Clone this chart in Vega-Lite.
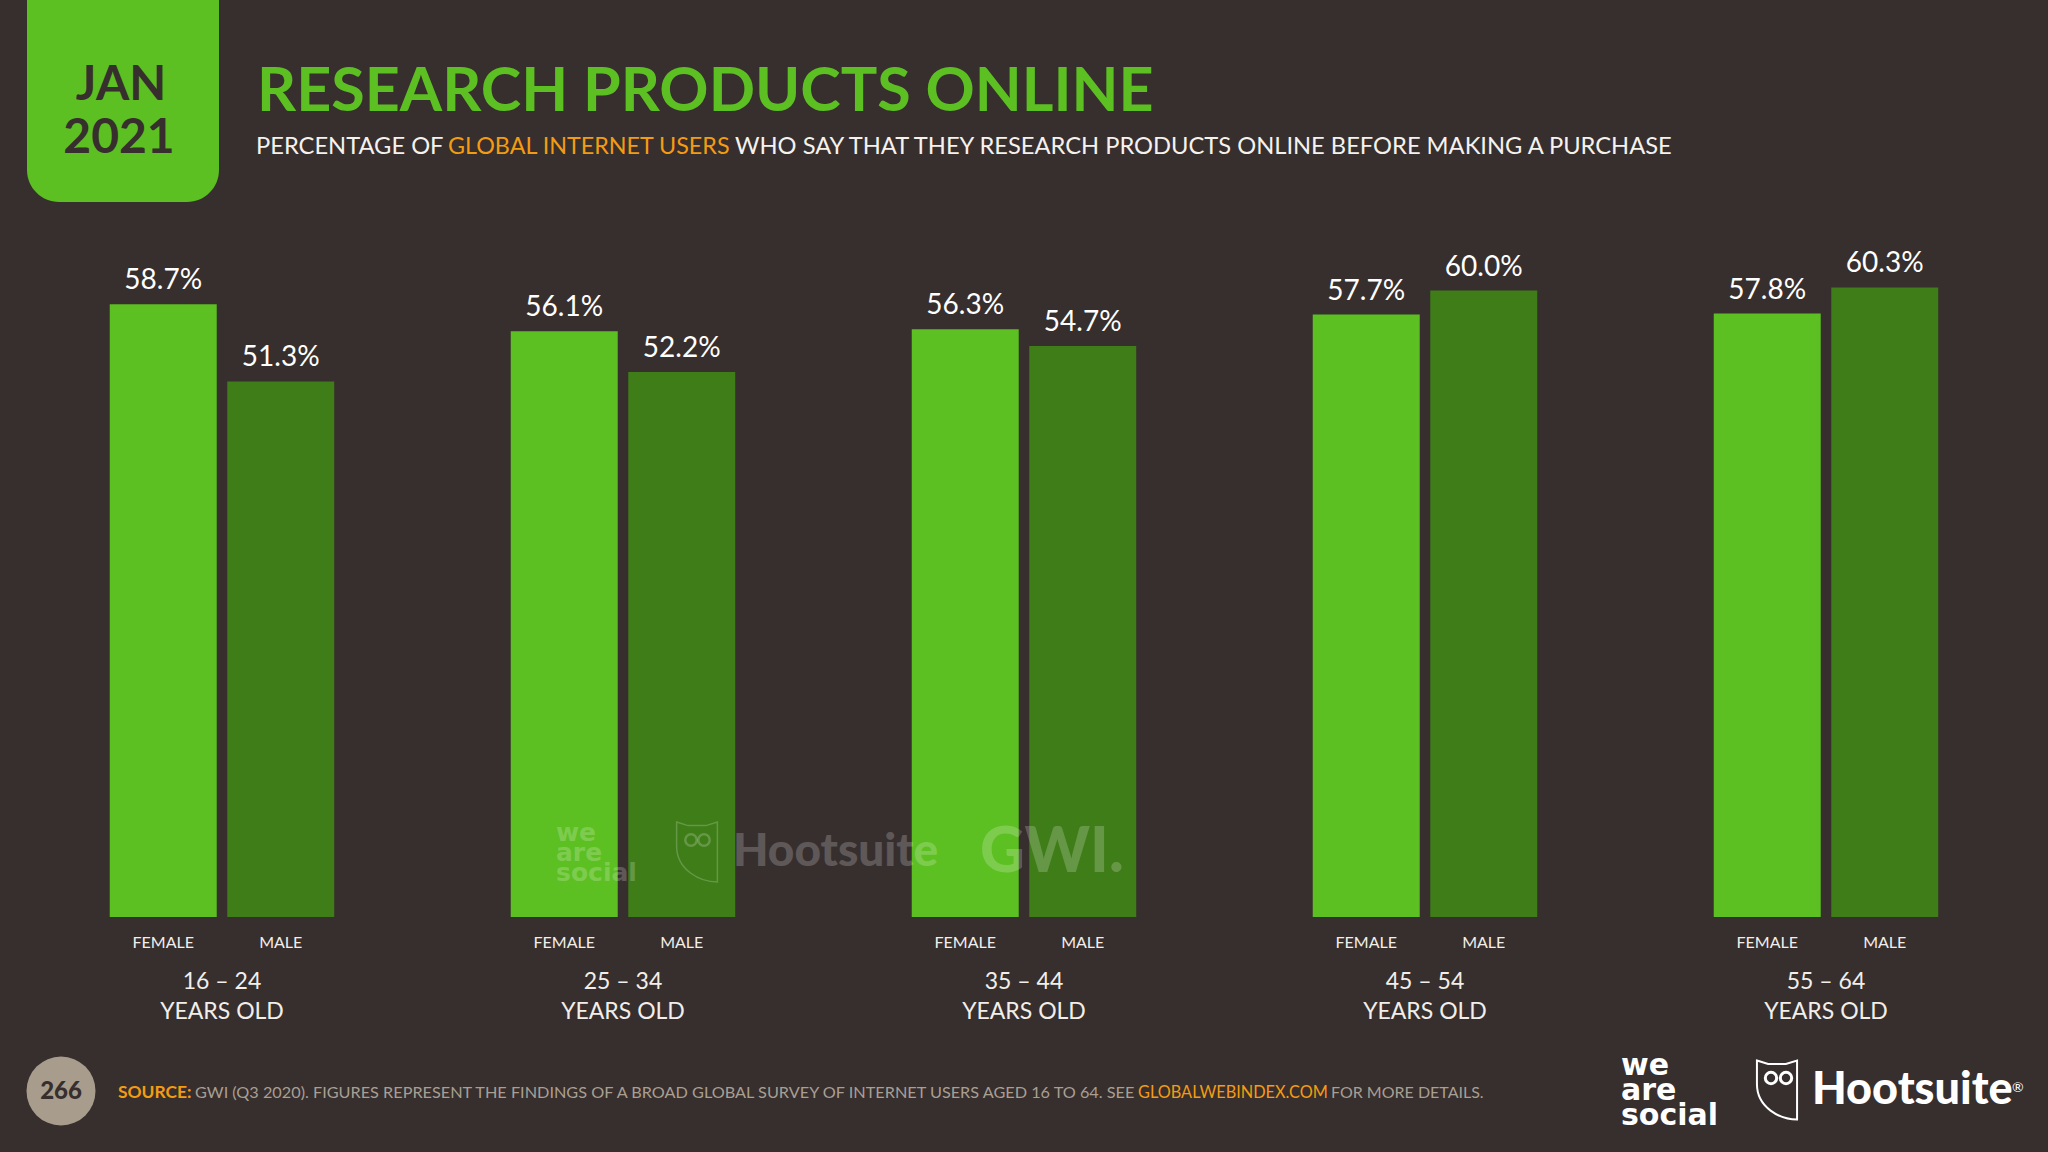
{"$schema":"https://vega.github.io/schema/vega-lite/v6.json","width":2048,"height":917,"autosize":{"type":"none"},"padding":{"left":0,"top":0,"right":0,"bottom":235},"background":"#372e2e","config":{"view":{"stroke":null},"text":{"font":"Lato"}},"datasets":{"bars":[{"age":"16 – 24","gender":"FEMALE","share":0.587},{"age":"16 – 24","gender":"MALE","share":0.513},{"age":"25 – 34","gender":"FEMALE","share":0.561},{"age":"25 – 34","gender":"MALE","share":0.522},{"age":"35 – 44","gender":"FEMALE","share":0.563},{"age":"35 – 44","gender":"MALE","share":0.547},{"age":"45 – 54","gender":"FEMALE","share":0.577},{"age":"45 – 54","gender":"MALE","share":0.6},{"age":"55 – 64","gender":"FEMALE","share":0.578},{"age":"55 – 64","gender":"MALE","share":0.603}]},"encoding":{},"layer":[{"data":{"values":[{"t":"badge"}]},"mark":{"type":"rect","color":"#5cbf22","cornerRadiusBottomLeft":32,"cornerRadiusBottomRight":32},"encoding":{"x":{"value":27},"x2":{"value":219},"y":{"value":-10},"y2":{"value":202}}},{"data":{"name":"bars"},"mark":{"type":"bar"},"encoding":{"x":{"field":"age","type":"nominal","sort":null,"scale":{"range":[21.5,2026.5],"paddingInner":0,"paddingOuter":0},"axis":{"title":null,"domain":false,"ticks":false,"labelAngle":0,"labelColor":"#f2eeea","labelFont":"Lato","labelFontSize":23,"labelPadding":53,"labelLineHeight":30,"labelExpr":"[datum.label,'YEARS OLD']"}},"xOffset":{"field":"gender","type":"nominal","sort":null,"scale":{"paddingInner":0.0894,"paddingOuter":0.751}},"y":{"field":"share","type":"quantitative","scale":{"domain":[0,0.8783],"nice":false},"axis":null},"color":{"field":"gender","type":"nominal","sort":null,"scale":{"domain":["FEMALE","MALE"],"range":["#5cbf22","#3e7d17"]},"legend":null}}},{"data":{"name":"bars"},"mark":{"type":"text","baseline":"alphabetic","align":"center","dy":-15,"font":"Lato","fontSize":28,"color":"#ffffff"},"encoding":{"x":{"field":"age","type":"nominal","sort":null},"xOffset":{"field":"gender","type":"nominal","sort":null},"y":{"field":"share","type":"quantitative"},"text":{"field":"share","type":"quantitative","format":".1%"}}},{"data":{"name":"bars"},"mark":{"type":"text","baseline":"middle","align":"center","dy":26,"fontSize":16,"color":"#f2eeea"},"encoding":{"x":{"field":"age","type":"nominal","sort":null},"xOffset":{"field":"gender","type":"nominal","sort":null},"y":{"datum":0,"type":"quantitative"},"text":{"field":"gender","type":"nominal"}}},{"data":{"values":[{"t":"JAN"}]},"mark":{"type":"text","align":"center","baseline":"alphabetic","fontSize":48,"fontWeight":"bold","color":"#372e2e"},"encoding":{"x":{"value":121},"y":{"value":100},"text":{"field":"t"}}},{"data":{"values":[{"t":"2021"}]},"mark":{"type":"text","align":"center","baseline":"alphabetic","fontSize":48,"fontWeight":"bold","color":"#372e2e"},"encoding":{"x":{"value":119},"y":{"value":153},"text":{"field":"t"}}},{"data":{"values":[{"t":"RESEARCH PRODUCTS ONLINE"}]},"mark":{"type":"text","align":"left","baseline":"alphabetic","fontSize":61,"fontWeight":"bold","color":"#5cbf22"},"encoding":{"x":{"value":257},"y":{"value":111},"text":{"field":"t"}}},{"data":{"values":[{"t":"PERCENTAGE OF"}]},"mark":{"type":"text","align":"left","baseline":"alphabetic","fontSize":23.7,"color":"#f5f2ee"},"encoding":{"x":{"value":256},"y":{"value":154},"text":{"field":"t"}}},{"data":{"values":[{"t":"GLOBAL INTERNET USERS"}]},"mark":{"type":"text","align":"left","baseline":"alphabetic","fontSize":23.3,"color":"#f39c12"},"encoding":{"x":{"value":448},"y":{"value":154},"text":{"field":"t"}}},{"data":{"values":[{"t":"WHO SAY THAT THEY RESEARCH PRODUCTS ONLINE BEFORE MAKING A PURCHASE"}]},"mark":{"type":"text","align":"left","baseline":"alphabetic","fontSize":23.7,"color":"#f5f2ee"},"encoding":{"x":{"value":735},"y":{"value":154},"text":{"field":"t"}}},{"data":{"values":[{"t":"we"}]},"mark":{"type":"text","align":"left","baseline":"alphabetic","font":"DejaVu Sans","fontSize":25,"fontWeight":"bold","color":"#ffffff","opacity":0.2},"encoding":{"x":{"value":556},"y":{"value":841},"text":{"field":"t"}}},{"data":{"values":[{"t":"are"}]},"mark":{"type":"text","align":"left","baseline":"alphabetic","font":"DejaVu Sans","fontSize":25,"fontWeight":"bold","color":"#ffffff","opacity":0.2},"encoding":{"x":{"value":556},"y":{"value":861},"text":{"field":"t"}}},{"data":{"values":[{"t":"social"}]},"mark":{"type":"text","align":"left","baseline":"alphabetic","font":"DejaVu Sans","fontSize":25,"fontWeight":"bold","color":"#ffffff","opacity":0.2},"encoding":{"x":{"value":556},"y":{"value":881},"text":{"field":"t"}}},{"data":{"values":[{"t":"owl"}]},"mark":{"type":"point","filled":false,"shape":"M-0.68,-1 L-0.3,-0.88 L0.3,-0.88 L0.68,-1 L0.68,1 C0.1,1 -0.68,0.6 -0.68,-0.2 Z","size":3600,"stroke":"#ffffff","strokeWidth":1.5,"opacity":0.2},"encoding":{"x":{"value":697},"y":{"value":852}}},{"data":{"values":[{"t":"eye"}]},"mark":{"type":"point","filled":false,"shape":"circle","size":130,"stroke":"#ffffff","strokeWidth":2.5,"opacity":0.2},"encoding":{"x":{"value":691},"y":{"value":840}}},{"data":{"values":[{"t":"eye"}]},"mark":{"type":"point","filled":false,"shape":"circle","size":130,"stroke":"#ffffff","strokeWidth":2.5,"opacity":0.2},"encoding":{"x":{"value":704},"y":{"value":840}}},{"data":{"values":[{"t":"Hootsuite"}]},"mark":{"type":"text","align":"left","baseline":"alphabetic","fontSize":46,"fontWeight":900,"color":"#ffffff","opacity":0.2},"encoding":{"x":{"value":733},"y":{"value":866},"text":{"field":"t"}}},{"data":{"values":[{"t":"GWI."}]},"mark":{"type":"text","align":"left","baseline":"alphabetic","fontSize":62,"fontWeight":900,"color":"#ffffff","opacity":0.2},"encoding":{"x":{"value":980},"y":{"value":872},"text":{"field":"t"}}},{"data":{"values":[{"t":"page"}]},"mark":{"type":"point","filled":true,"shape":"circle","size":4761,"color":"#a89d8c","opacity":1},"encoding":{"x":{"value":61},"y":{"value":1091}}},{"data":{"values":[{"t":"266"}]},"mark":{"type":"text","align":"center","baseline":"alphabetic","fontSize":24,"fontWeight":900,"color":"#372e2e"},"encoding":{"x":{"value":61},"y":{"value":1099},"text":{"field":"t"}}},{"data":{"values":[{"t":"SOURCE:"}]},"mark":{"type":"text","align":"left","baseline":"alphabetic","fontSize":17.4,"fontWeight":"bold","color":"#f39c12"},"encoding":{"x":{"value":118},"y":{"value":1098},"text":{"field":"t"}}},{"data":{"values":[{"t":"GWI (Q3 2020). FIGURES REPRESENT THE FINDINGS OF A BROAD GLOBAL SURVEY OF INTERNET USERS AGED 16 TO 64. SEE"}]},"mark":{"type":"text","align":"left","baseline":"alphabetic","fontSize":16.25,"color":"#a89f92"},"encoding":{"x":{"value":195},"y":{"value":1098},"text":{"field":"t"}}},{"data":{"values":[{"t":"GLOBALWEBINDEX.COM"}]},"mark":{"type":"text","align":"left","baseline":"alphabetic","fontSize":16.3,"color":"#f39c12"},"encoding":{"x":{"value":1138},"y":{"value":1098},"text":{"field":"t"}}},{"data":{"values":[{"t":"FOR MORE DETAILS."}]},"mark":{"type":"text","align":"left","baseline":"alphabetic","fontSize":16,"color":"#a89f92"},"encoding":{"x":{"value":1331},"y":{"value":1098},"text":{"field":"t"}}},{"data":{"values":[{"t":"we"}]},"mark":{"type":"text","align":"left","baseline":"alphabetic","font":"DejaVu Sans","fontSize":30,"fontWeight":"bold","color":"#ffffff"},"encoding":{"x":{"value":1621},"y":{"value":1075},"text":{"field":"t"}}},{"data":{"values":[{"t":"are"}]},"mark":{"type":"text","align":"left","baseline":"alphabetic","font":"DejaVu Sans","fontSize":30,"fontWeight":"bold","color":"#ffffff"},"encoding":{"x":{"value":1621},"y":{"value":1100},"text":{"field":"t"}}},{"data":{"values":[{"t":"social"}]},"mark":{"type":"text","align":"left","baseline":"alphabetic","font":"DejaVu Sans","fontSize":30,"fontWeight":"bold","color":"#ffffff"},"encoding":{"x":{"value":1621},"y":{"value":1125},"text":{"field":"t"}}},{"data":{"values":[{"t":"owl"}]},"mark":{"type":"point","filled":false,"shape":"M-0.68,-1 L-0.3,-0.88 L0.3,-0.88 L0.68,-1 L0.68,1 C0.1,1 -0.68,0.6 -0.68,-0.2 Z","size":3481,"stroke":"#ffffff","strokeWidth":2,"opacity":1},"encoding":{"x":{"value":1777},"y":{"value":1090}}},{"data":{"values":[{"t":"eye"}]},"mark":{"type":"point","filled":false,"shape":"circle","size":130,"stroke":"#ffffff","strokeWidth":3,"opacity":1},"encoding":{"x":{"value":1771},"y":{"value":1078}}},{"data":{"values":[{"t":"eye"}]},"mark":{"type":"point","filled":false,"shape":"circle","size":130,"stroke":"#ffffff","strokeWidth":3,"opacity":1},"encoding":{"x":{"value":1786},"y":{"value":1078}}},{"data":{"values":[{"t":"Hootsuite"}]},"mark":{"type":"text","align":"left","baseline":"alphabetic","fontSize":45,"fontWeight":900,"color":"#ffffff"},"encoding":{"x":{"value":1812},"y":{"value":1104},"text":{"field":"t"}}},{"data":{"values":[{"t":"®"}]},"mark":{"type":"text","align":"left","baseline":"alphabetic","fontSize":14,"color":"#ffffff"},"encoding":{"x":{"value":2012},"y":{"value":1092},"text":{"field":"t"}}}]}
